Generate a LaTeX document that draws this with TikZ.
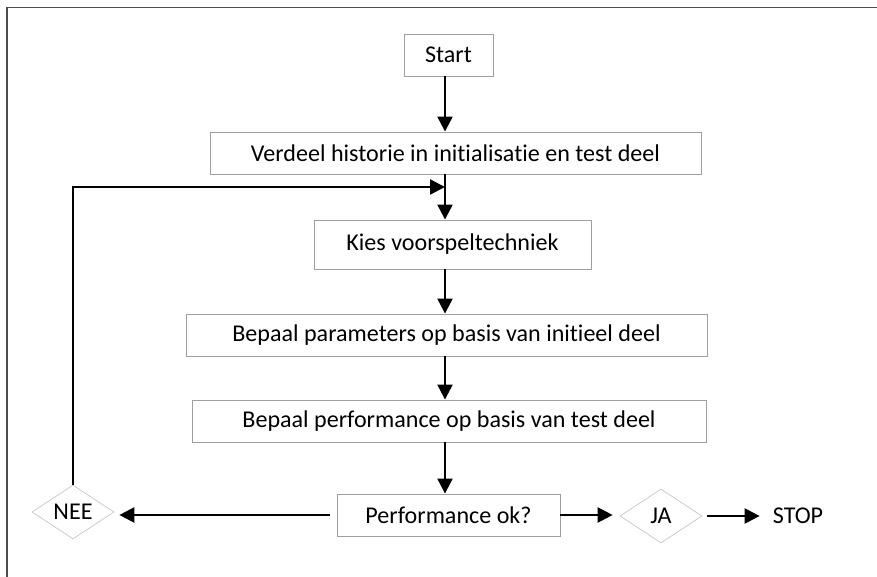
\documentclass[tikz,border=0pt]{standalone}
\usepackage{fontspec}
\setmainfont{Carlito}[Ligatures=NoCommon]
\usepackage{tikz}
\usetikzlibrary{positioning, calc, arrows.meta, shapes.geometric}

\begin{document}
\begin{tikzpicture}[x=0.02cm,y=-0.02cm,
    every node/.style={font=\fontsize{13.7pt}{16pt}\selectfont},
    stepbox/.style={draw=gray!75,line width=0.5pt,minimum height=0.84cm,inner sep=0pt},
    choice/.style={draw=gray!45,line width=0.4pt,diamond,aspect=1.52,minimum width=1.64cm,minimum height=1.08cm,inner sep=0pt},
    arr/.style={-{Triangle[length=3mm,width=3mm]},line width=1.3pt}]
      \useasboundingbox (0,0) rectangle (877,577);
      \draw[gray!60!black,line width=0.8pt] (7,577)--(7,7.5)--(877,7.5);%kader
      \coordinate (axis) at (445,0);
      \node[stepbox,minimum width=1.78cm] (start) at (448.5,55) {Start};
      \node[stepbox,minimum width=9.82cm] (verdeel) at (455.5,153) {Verdeel historie in initialisatie en test deel};
      \node[stepbox,minimum width=5.54cm,minimum height=0.98cm] (kies) at (452.5,244.5) {Kies voorspeltechniek};
      \node[stepbox,minimum width=10.42cm] (param) at (446.5,335) {Bepaal parameters op basis van initieel deel};
      \node[stepbox,minimum width=10.28cm] (perf) at (449,421) {Bepaal performance op basis van test deel};
      \node[stepbox,minimum width=4.46cm] (ok) at (448.5,515) {Performance ok?};
      \node[choice] (nee) at (73,512) {NEE};
      \node[choice] (ja) at (661,516) {JA};
      \node (stop) at (798,516) {STOP};
      \coordinate (loop) at (445,187);
      \draw[arr] (axis |- start.south)--(axis |- verdeel.north);
      \draw[arr] (axis |- verdeel.south)--(axis |- kies.north);
      \draw[arr] (axis |- kies.south)--(axis |- param.north);
      \draw[arr] (axis |- param.south)--(axis |- perf.north);
      \draw[arr] (axis |- perf.south)--(axis |- ok.north);
      \draw[arr,shorten <=0.14cm,shorten >=0.1cm] (ok.west)--(ok.west -| nee.east);%nee
      \draw[arr,shorten >=0.14cm] (ok.east)--(ok.east -| ja.west);%ja
      \draw[arr,shorten <=0.1cm,shorten >=0.14cm] (ja.east)--(stop.west);
      \draw[arr] (nee.north)|-(loop);%terug
    \end{tikzpicture}
\end{document}
